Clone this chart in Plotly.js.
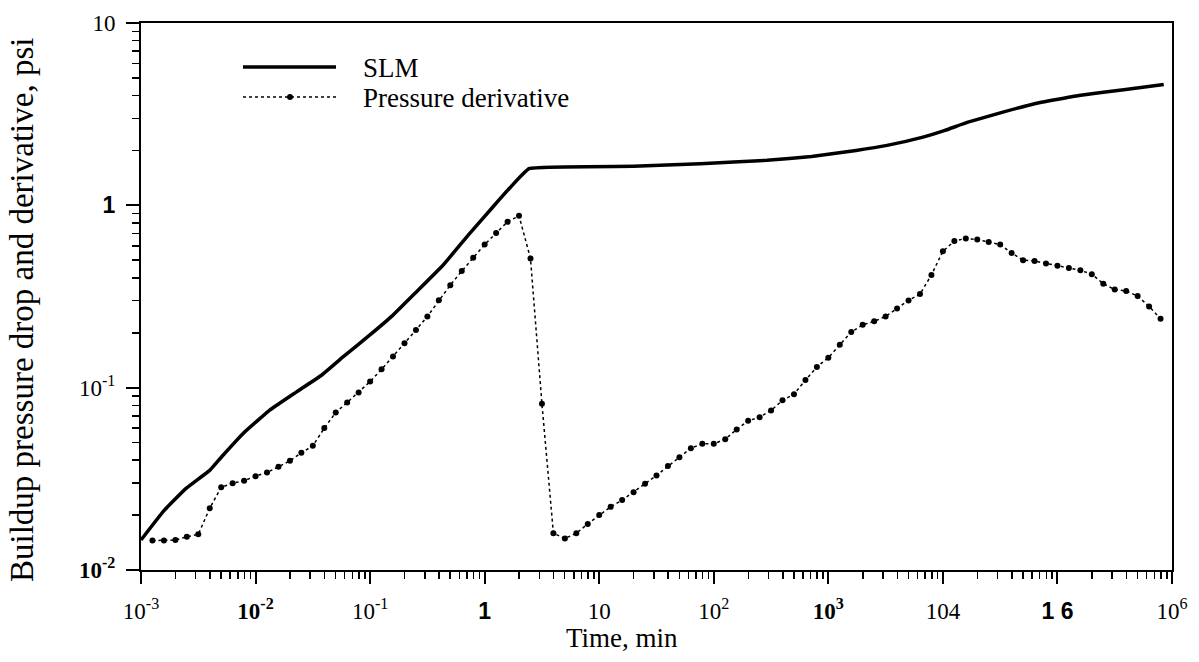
<!DOCTYPE html>
<html>
<head>
<meta charset="utf-8">
<script src="https://cdn.plot.ly/plotly-3.0.1.min.js"></script>
<style>html,body{margin:0;padding:0;background:#fff;}#chart{width:1199px;height:662px;}</style>
</head>
<body>
<div id="chart"></div>
<script>
// ---- data ----
const slmTime = [0.001,0.00156,0.00242,0.0040,0.00506,0.0078,0.0133,0.0228,0.0376,0.058,0.099,0.1585,0.2535,0.4325,0.7375,1.179,1.648,2.44,19.9,76.2,292,714,1746,3256,6700,10420,16550,33420,63100,153800,379000,847000];
const slmValue = [0.0146,0.0209,0.0277,0.0353,0.0418,0.0561,0.0753,0.0948,0.117,0.1475,0.194,0.250,0.335,0.469,0.700,0.979,1.24,1.589,1.636,1.692,1.765,1.855,2.0,2.132,2.366,2.576,2.858,3.245,3.608,4.006,4.305,4.602];

const derivTime = [0.001259,0.001585,0.001995,0.002512,0.003162,0.003981,0.005012,0.00631,0.007943,
  0.01,0.01259,0.01585,0.01995,0.02512,0.03162,0.03981,0.05012,0.0631,0.07943,
  0.1,0.1259,0.1585,0.1995,0.2512,0.3162,0.3981,0.5012,0.631,0.7943,
  1,1.259,1.585,1.995,2.512,3.162,3.981,5.012,6.31,7.943,
  10,12.59,15.85,19.95,25.12,31.62,39.81,50.12,63.1,79.43,
  100,125.9,158.5,199.5,251.2,316.2,398.1,501.2,631,794.3,
  1000,1259,1585,1995,2512,3162,3981,5012,6310,7943,
  10000,12590,15850,19950,25120,31620,39810,50120,63100,79430,
  100000,125900,158500,199500,251200,316200,398100,501200,631000,794300];
const derivValue = [0.0145,0.0145,0.0146,0.0152,0.0157,0.0218,0.0284,0.0299,0.0309,
  0.0327,0.0343,0.0368,0.0397,0.0439,0.0480,0.0600,0.0731,0.0830,0.0942,
  0.108,0.126,0.148,0.175,0.207,0.246,0.302,0.365,0.436,0.516,
  0.609,0.705,0.812,0.876,0.511,0.0815,0.0159,0.0149,0.0159,0.0179,
  0.0200,0.0222,0.0242,0.0267,0.0297,0.0330,0.0372,0.0415,0.0466,0.0492,
  0.0492,0.0522,0.0590,0.0658,0.0689,0.0750,0.0852,0.0921,0.110,0.130,
  0.146,0.172,0.202,0.221,0.231,0.246,0.272,0.301,0.326,0.415,
  0.560,0.637,0.658,0.649,0.629,0.609,0.548,0.500,0.495,0.480,
  0.467,0.453,0.440,0.419,0.372,0.345,0.339,0.318,0.279,0.239];

const xTickVals = [0.001,0.01,0.1,1,10,100,1000,10000,100000,1000000];
const xTickText = ['10<sup>-3</sup>','<b>10<sup>-2</sup></b>','10<sup>-1</sup>',
  '<span style="font-family:Liberation Sans"><b>1</b></span>','10','10<sup>2</sup>',
  '<b>10<sup>3</sup></b>','104','<span style="font-family:Liberation Sans"><b>1 6</b></span>','10<sup>6</sup>'];
const yTickVals = [0.01,0.1,1,10];
const yTickText = ['<b>10<sup>-2</sup></b>','10<sup>-1</sup>',
  '<span style="font-family:Liberation Sans"><b>1</b></span>','10'];

const seriesNames = ['SLM','Pressure derivative'];
const xTitle = 'Time, min';
const yTitle = 'Buildup pressure drop and derivative, psi';

// ---- layout helpers ----
const L = 141, R = 1172, T = 23, B = 570;
const px = v => (v - L) / (R - L);
const py = v => (B - v) / (B - T);

function minorVals(lo, hi) {
  const out = [];
  for (let e = lo; e < hi; e++) for (let m = 2; m <= 9; m++) out.push(m * Math.pow(10, e));
  return out;
}

const serif = 'Liberation Serif, Times New Roman, serif';

const traces = [
  {x: slmTime, y: slmValue, type: 'scatter', mode: 'lines', name: seriesNames[0],
   line: {color: '#000', width: 3.5, shape: 'spline', smoothing: 0.3}, showlegend: false},
  {x: derivTime, y: derivValue, type: 'scatter', mode: 'lines+markers', name: seriesNames[1],
   line: {color: '#000', width: 1.5, dash: '3px,3px'},
   marker: {color: '#000', size: 6, symbol: 'circle'}, showlegend: false}
];

const layout = {
  width: 1199, height: 662,
  margin: {l: L, r: 1199 - R, t: T, b: 662 - B, pad: 0},
  paper_bgcolor: '#fff', plot_bgcolor: '#fff',
  font: {family: serif, color: '#000'},
  xaxis: {type: 'log', range: [-3, 6], showgrid: false, zeroline: false,
    showline: true, linecolor: '#000', linewidth: 2, mirror: true,
    ticks: 'outside', ticklen: 12, tickwidth: 2, tickcolor: '#000',
    tickmode: 'array', tickvals: xTickVals, ticktext: xTickText, ticklabelstandoff: 7,
    tickfont: {family: serif, size: 23, color: '#000'},
    minor: {tickmode: 'array', tickvals: minorVals(-3, 6), ticks: 'outside', ticklen: 7, tickwidth: 1.5, tickcolor: '#000', showgrid: false}
  },
  yaxis: {type: 'log', range: [-2, 1], showgrid: false, zeroline: false,
    showline: true, linecolor: '#000', linewidth: 2, mirror: true,
    ticks: 'outside', ticklen: 13, tickwidth: 2, tickcolor: '#000',
    tickmode: 'array', tickvals: yTickVals, ticktext: yTickText, ticklabelstandoff: 6,
    tickfont: {family: serif, size: 23, color: '#000'},
    minor: {tickmode: 'array', tickvals: minorVals(-2, 1), ticks: 'outside', ticklen: 7, tickwidth: 1.5, tickcolor: '#000', showgrid: false}
  },
  shapes: [
    {type: 'line', xref: 'paper', yref: 'paper', x0: px(243), x1: px(336), y0: py(67), y1: py(67),
     line: {color: '#000', width: 3.5}},
    {type: 'line', xref: 'paper', yref: 'paper', x0: px(243), x1: px(336), y0: py(97), y1: py(97),
     line: {color: '#000', width: 1.5, dash: '3px,3px'}},
    {type: 'circle', xref: 'paper', yref: 'paper', x0: px(287), x1: px(293), y0: py(94), y1: py(100),
     fillcolor: '#000', line: {color: '#000', width: 0}}
  ],
  annotations: [
    {text: seriesNames[0], xref: 'paper', yref: 'paper', x: px(361), y: py(68), xanchor: 'left', yanchor: 'middle',
     showarrow: false, font: {family: serif, size: 27, color: '#000'}},
    {text: seriesNames[1], xref: 'paper', yref: 'paper', x: px(361), y: py(98), xanchor: 'left', yanchor: 'middle',
     showarrow: false, font: {family: serif, size: 27, color: '#000'}},
    {text: xTitle, xref: 'paper', yref: 'paper', x: px(622), y: py(638), xanchor: 'center', yanchor: 'middle',
     showarrow: false, font: {family: serif, size: 27, color: '#000'}},
    {text: yTitle, xref: 'paper', yref: 'paper', x: px(22), y: py(310), xanchor: 'center', yanchor: 'middle',
     textangle: -90, showarrow: false, font: {family: serif, size: 33, color: '#000'}}
  ],
  showlegend: false
};

Plotly.newPlot('chart', traces, layout, {displayModeBar: false, staticPlot: true});
</script>
</body>
</html>
